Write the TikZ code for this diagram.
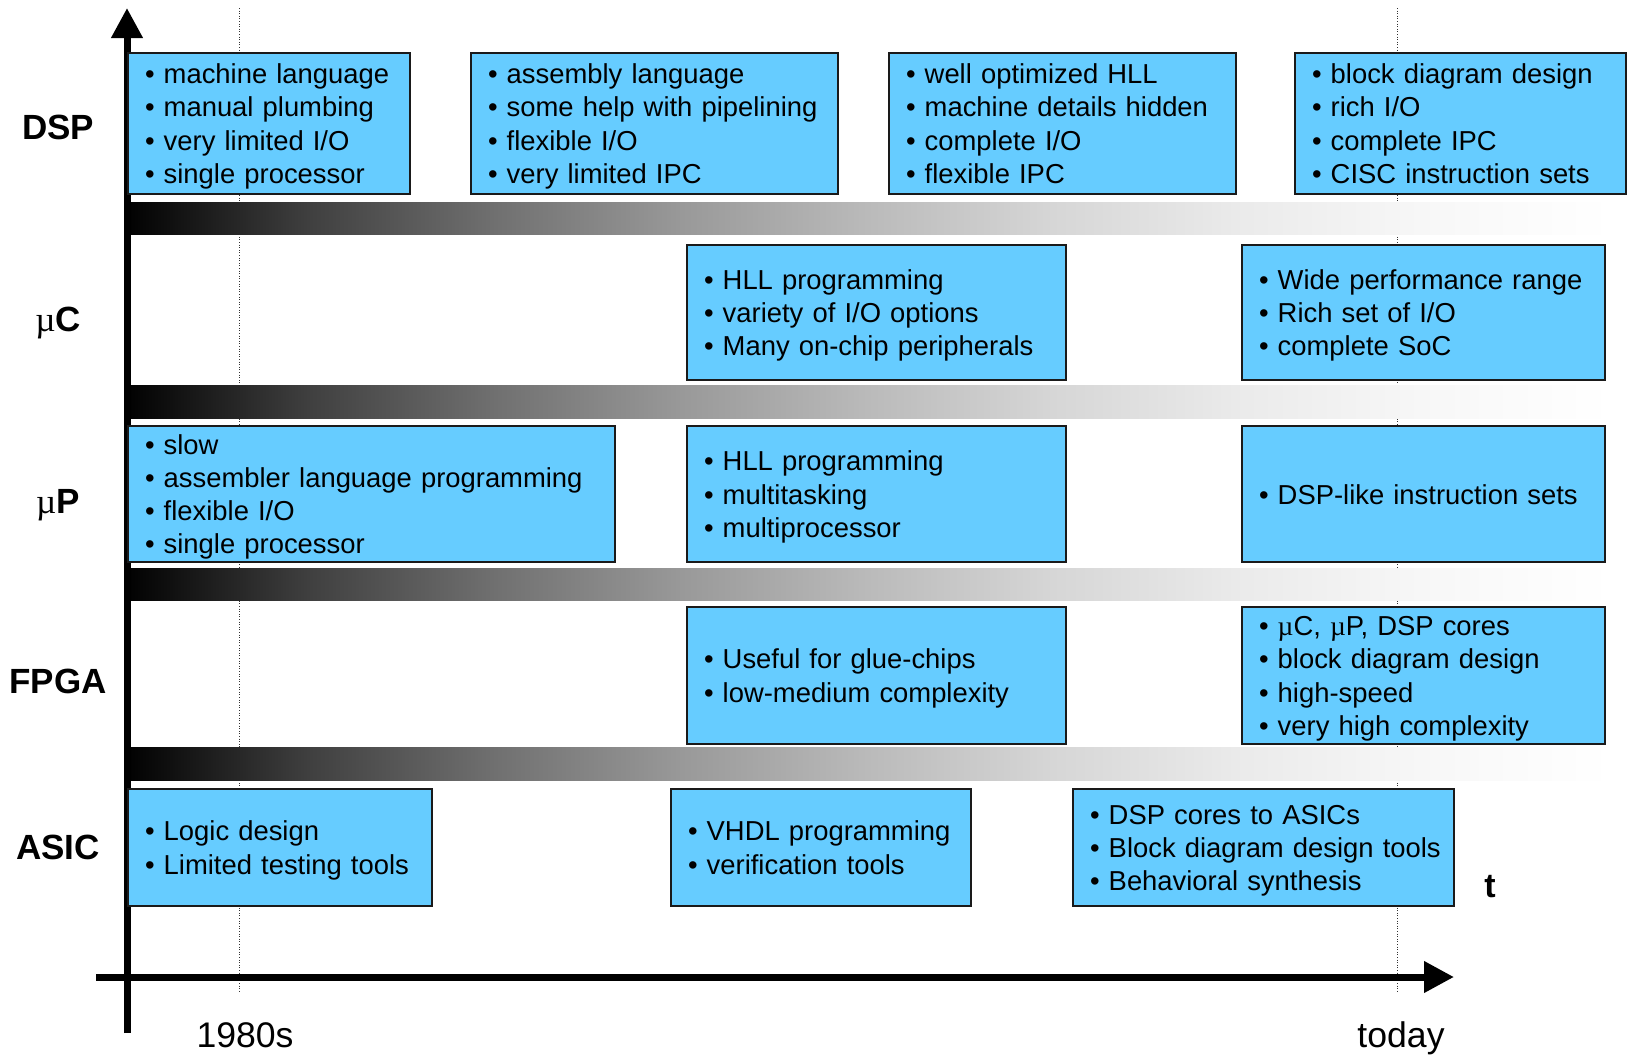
\documentclass[tikz,border=0pt]{standalone}
\usepackage{fontspec}
\setmainfont{Liberation Sans}
\newfontfamily\greekserif{Liberation Serif}
\usetikzlibrary{arrows.meta}

\definecolor{boxblue}{HTML}{66CCFF}
\definecolor{boxedge}{HTML}{1A1A1A}

% band shading: black on the left, fading to white on the right
\pgfdeclarehorizontalshading{barfade}{100bp}{%
  color(0bp)=(black); color(25bp)=(black);
  color(31.25bp)=(black!75); color(37.5bp)=(black!56);
  color(43.75bp)=(black!40); color(50bp)=(black!27);
  color(56.25bp)=(black!16); color(62.5bp)=(black!8);
  color(68.75bp)=(black!3); color(75bp)=(white); color(100bp)=(white)}

\newcommand\mus{{\greekserif\mdseries µ}}
% one bulleted line with a fixed height and no depth, so every box is centred alike
\newcommand\bl[1]{\rule{0pt}{20pt}\smash{• #1}}

\tikzset{
  infobox/.style={draw=boxedge, line width=2pt, fill=boxblue, anchor=north west,
    align=left, inner xsep=17pt, inner ysep=0pt,
    font=\fontsize{27.4}{33.2}\selectfont},
  rowlabel/.style={anchor=base, inner sep=0pt, font=\fontsize{35}{40}\selectfont\bfseries},
  ticklabel/.style={anchor=base, inner sep=0pt, font=\fontsize{35.6}{40}\selectfont},
  axisline/.style={line width=7pt, -{Triangle[length=30pt,width=30pt]}},
  epochline/.style={line width=1pt, dash pattern=on 1pt off 1.6pt, black!80},
  band/.style={shading=barfade}
}

\begin{document}
\begin{tikzpicture}[x=1pt,y=-1pt]
\useasboundingbox[fill=white] (0,0) rectangle (1627,1058);

% epoch markers
\coordinate (e1top) at (239,8);   \coordinate (e1bot) at (239,993);
\coordinate (e2top) at (1397,8);  \coordinate (e2bot) at (1397,993);
\draw[epochline] (e1top) -- (e1bot);
\draw[epochline] (e2top) -- (e2bot);

% separating bands
\foreach \yt/\yb in {202/234, 385/418, 568/600, 747/780}
  \fill[band] (124,\yt) rectangle (1612,\yb);

% axes
\coordinate (yfoot) at (127,1033); \coordinate (ytip) at (127,8);
\coordinate (xfoot) at (96,977);   \coordinate (xtip) at (1454,977);
\draw[axisline] (yfoot) -- (ytip);
\draw[axisline] (xfoot) -- (xtip);

% row labels
\node[rowlabel] (lDSP)  at (58,139) {DSP};
\node[rowlabel] (lMC)   at (58,331) {\mus C};
\node[rowlabel] (lMP)   at (58,513) {\mus P};
\node[rowlabel] (lFPGA) at (58,693) {FPGA};
\node[rowlabel] (lASIC) at (58,859) {ASIC};

% time axis labels
\node[ticklabel] (t1980) at (245,1047) {1980s};
\node[ticklabel] (ttoday) at (1401,1047) {today};
\node[anchor=base, inner sep=0pt, font=\fontsize{34}{40}\selectfont\bfseries] (tlabel) at (1490,897) {t};

% DSP row
\node[infobox, minimum width=282pt, minimum height=141pt, text width=248pt] (d1) at (127,52)
  {\bl{machine language}\\ \bl{manual plumbing}\\ \bl{very limited I/O}\\ \bl{single processor}};
\node[infobox, minimum width=367pt, minimum height=141pt, text width=333pt] (d2) at (470,52)
  {\bl{assembly language}\\ \bl{some help with pipelining}\\ \bl{flexible I/O}\\ \bl{very limited IPC}};
\node[infobox, minimum width=347pt, minimum height=141pt, text width=313pt] (d3) at (888,52)
  {\bl{well optimized HLL}\\ \bl{machine details hidden}\\ \bl{complete I/O}\\ \bl{flexible IPC}};
\node[infobox, minimum width=331pt, minimum height=141pt, text width=297pt] (d4) at (1294,52)
  {\bl{block diagram design}\\ \bl{rich I/O}\\ \bl{complete IPC}\\ \bl{CISC instruction sets}};

% microcontroller row
\node[infobox, minimum width=379pt, minimum height=135pt, text width=345pt] (c2) at (686,244)
  {\bl{HLL programming}\\ \bl{variety of I/O options}\\ \bl{Many on-chip peripherals}};
\node[infobox, minimum width=363pt, minimum height=135pt, text width=329pt] (c4) at (1241,244)
  {\bl{Wide performance range}\\ \bl{Rich set of I/O}\\ \bl{complete SoC}};

% microprocessor row
\node[infobox, minimum width=487pt, minimum height=136pt, text width=453pt] (p1) at (127,425)
  {\bl{slow}\\ \bl{assembler language programming}\\ \bl{flexible I/O}\\ \bl{single processor}};
\node[infobox, minimum width=379pt, minimum height=136pt, text width=345pt] (p2) at (686,425)
  {\bl{HLL programming}\\ \bl{multitasking}\\ \bl{multiprocessor}};
\node[infobox, minimum width=363pt, minimum height=136pt, text width=329pt] (p4) at (1241,425)
  {\bl{DSP-like instruction sets}};

% FPGA row
\node[infobox, minimum width=379pt, minimum height=137pt, text width=345pt] (f2) at (686,606)
  {\bl{Useful for glue-chips}\\ \bl{low-medium complexity}};
\node[infobox, minimum width=363pt, minimum height=137pt, text width=329pt] (f4) at (1241,606)
  {\bl{\mus C, \mus P, DSP cores}\\ \bl{block diagram design}\\ \bl{high-speed}\\ \bl{very high complexity}};

% ASIC row
\node[infobox, minimum width=304pt, minimum height=117pt, text width=270pt] (a1) at (127,788)
  {\bl{Logic design}\\ \bl{Limited testing tools}};
\node[infobox, minimum width=300pt, minimum height=117pt, text width=266pt] (a2) at (670,788)
  {\bl{VHDL programming}\\ \bl{verification tools}};
\node[infobox, minimum width=381pt, minimum height=117pt, text width=347pt] (a3) at (1072,788)
  {\bl{DSP cores to ASICs}\\ \bl{Block diagram design tools}\\ \bl{Behavioral synthesis}};

\end{tikzpicture}
\end{document}
